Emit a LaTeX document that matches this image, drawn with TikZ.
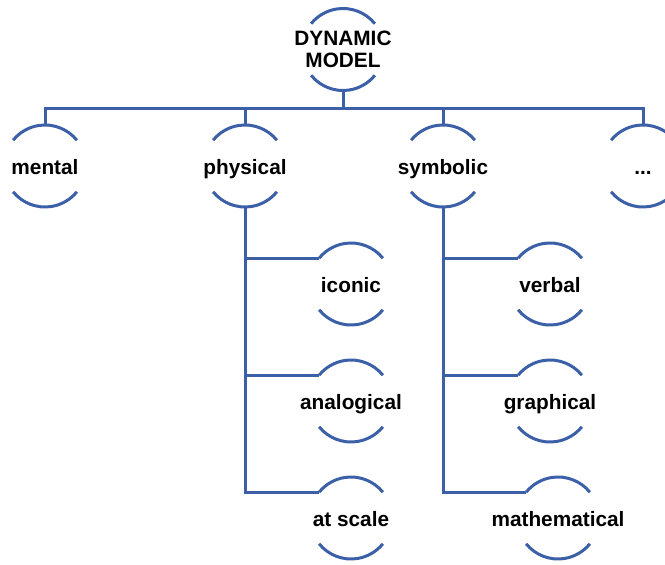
\documentclass[tikz,border=0pt]{standalone}
\usepackage{fontspec}
\setmainfont{Liberation Sans}
\usepackage{tikz}
\usetikzlibrary{positioning,calc}

\definecolor{ringblue}{RGB}{59,96,167}

\begin{document}
\begin{tikzpicture}[x=1pt, y=1pt,
  ring/.style={inner sep=0pt, align=center, text height=16.5pt, text depth=0.5pt,
               font=\fontsize{20.8}{22}\selectfont\bfseries},
  link/.style={draw=ringblue, line width=3pt}]

\useasboundingbox (0,0) rectangle (665,-565);

\node[ring, text height=, text depth=] (top) at (343,-49.5) {DYNAMIC\\MODEL};
\node[ring] (mental)     at (45,-166)  {mental};
\node[ring] (physical)   at (245,-166) {physical};
\node[ring] (symbolic)   at (443,-166) {symbolic};
\node[ring] (more)       at (643,-166) {...};
\node[ring] (iconic)     at (351,-284) {iconic};
\node[ring] (analogical) at (351,-401) {analogical};
\node[ring] (atscale)    at (351,-518) {at scale};
\node[ring] (verbal)     at (550,-284) {verbal};
\node[ring] (graphical)  at (550,-401) {graphical};
\node[ring] (mathematical) at (558,-518) {mathematical};

% half rings above and below every label
\foreach \n in {top,mental,physical,symbolic,more,iconic,analogical,atscale,verbal,graphical,mathematical}{
  \draw[link] ([shift={(39:41)}]\n.center) arc[start angle=39, end angle=141, radius=41];
  \draw[link] ([shift={(219:41)}]\n.center) arc[start angle=219, end angle=321, radius=41];
}

\draw[link] ([yshift=-41pt]top.center) -- ++(0,-17.5) coordinate (bar);
\foreach \n in {mental,physical,symbolic,more}
  \draw[link] ([yshift=41pt]\n.center) |- (bar);

\foreach \a/\b in {physical/iconic, physical/analogical, physical/atscale,
                   symbolic/verbal, symbolic/graphical, symbolic/mathematical}
  \draw[link] ([yshift=-41pt]\a.center) |- ([shift={(141:41)}]\b.center);
\end{tikzpicture}
\end{document}
